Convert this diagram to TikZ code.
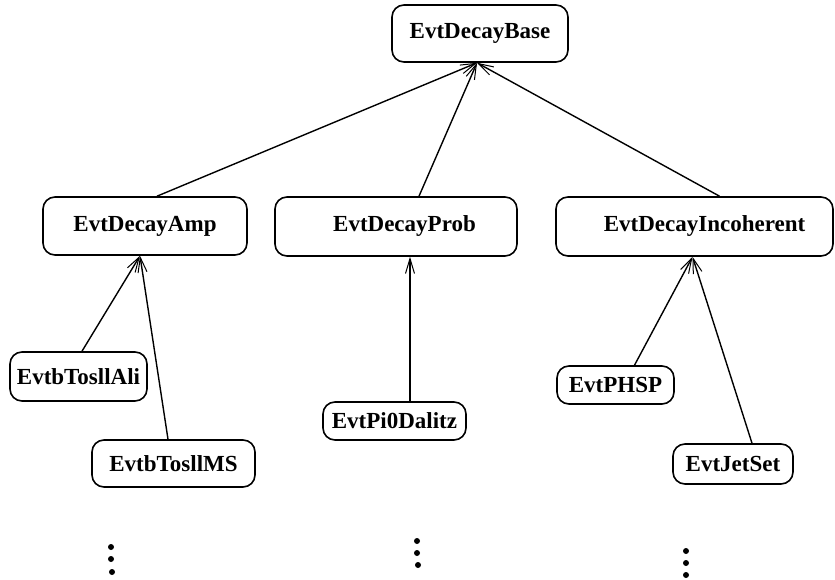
\documentclass[tikz,border=0pt]{standalone}
\usepackage{fontspec}
\setmainfont{Liberation Serif}
\usetikzlibrary{arrows.meta}
\tikzset{
  classbox/.style={draw,line width=1.6pt,rounded corners=12pt,inner sep=0pt,
    font=\fontsize{23}{26}\selectfont\bfseries},
  derives/.style={line width=1.4pt,-{Straight Barb[length=15pt,width=9pt,line width=1pt]}}
}
\begin{document}
\begin{tikzpicture}[x=1pt,y=-1pt]
\useasboundingbox (0,0) rectangle (835,580);
% base class
\node[classbox,minimum width=176pt,minimum height=57pt] (base) at (480,33.5) {EvtDecayBase};
% second level
\node[classbox,minimum width=204pt,minimum height=58pt] (amp) at (145,226) {EvtDecayAmp\hspace{22pt}};
\node[classbox,minimum width=242pt,minimum height=59pt] (prob) at (396,226.5) {\hspace{17pt}EvtDecayProb};
\node[classbox,minimum width=277pt,minimum height=59pt] (inc) at (694.5,226.5) {\hspace{20pt}EvtDecayIncoherent};
% models
\node[classbox,minimum width=137pt,minimum height=49pt] (ali) at (78.5,376.5) {EvtbTosllAli};
\node[classbox,minimum width=163pt,minimum height=47pt] (ms) at (173.5,463.5) {EvtbTosllMS};
\node[classbox,minimum width=143pt,minimum height=38pt] (pi0) at (394.5,421) {EvtPi0Dalitz};
\node[classbox,minimum width=117pt,minimum height=38pt] (phsp) at (615.5,385) {EvtPHSP};
\node[classbox,minimum width=120pt,minimum height=40pt] (jet) at (733,464) {EvtJetSet};
% where the arrows meet
\coordinate (basein) at ([xshift=-3pt]base.south);
\coordinate (ampin) at ([xshift=-5pt]amp.south);
\coordinate (probin) at ([xshift=14pt]prob.south);
\coordinate (incin) at ([xshift=-2pt]inc.south);
\draw[derives] ([xshift=12pt]amp.north) -- (basein);
\draw[derives] ([xshift=23pt]prob.north) -- (basein);
\draw[derives] ([xshift=25pt]inc.north) -- (basein);
\draw[derives] ([xshift=3.5pt]ali.north) -- (ampin);
\draw[derives] ([xshift=-5.5pt]ms.north) -- (ampin);
\draw[derives] ([xshift=15.5pt]pi0.north) -- (probin);
\draw[derives] ([xshift=19pt]phsp.north) -- (incin);
\draw[derives] ([xshift=19pt]jet.north) -- (incin);
% more models
\foreach \x/\y in {111/547,111/559,112/572,417/541,417/553,418/565,686/551,686/563,686/575}
{
  \fill (\x,\y) circle (3);
}
\end{tikzpicture}
\end{document}
